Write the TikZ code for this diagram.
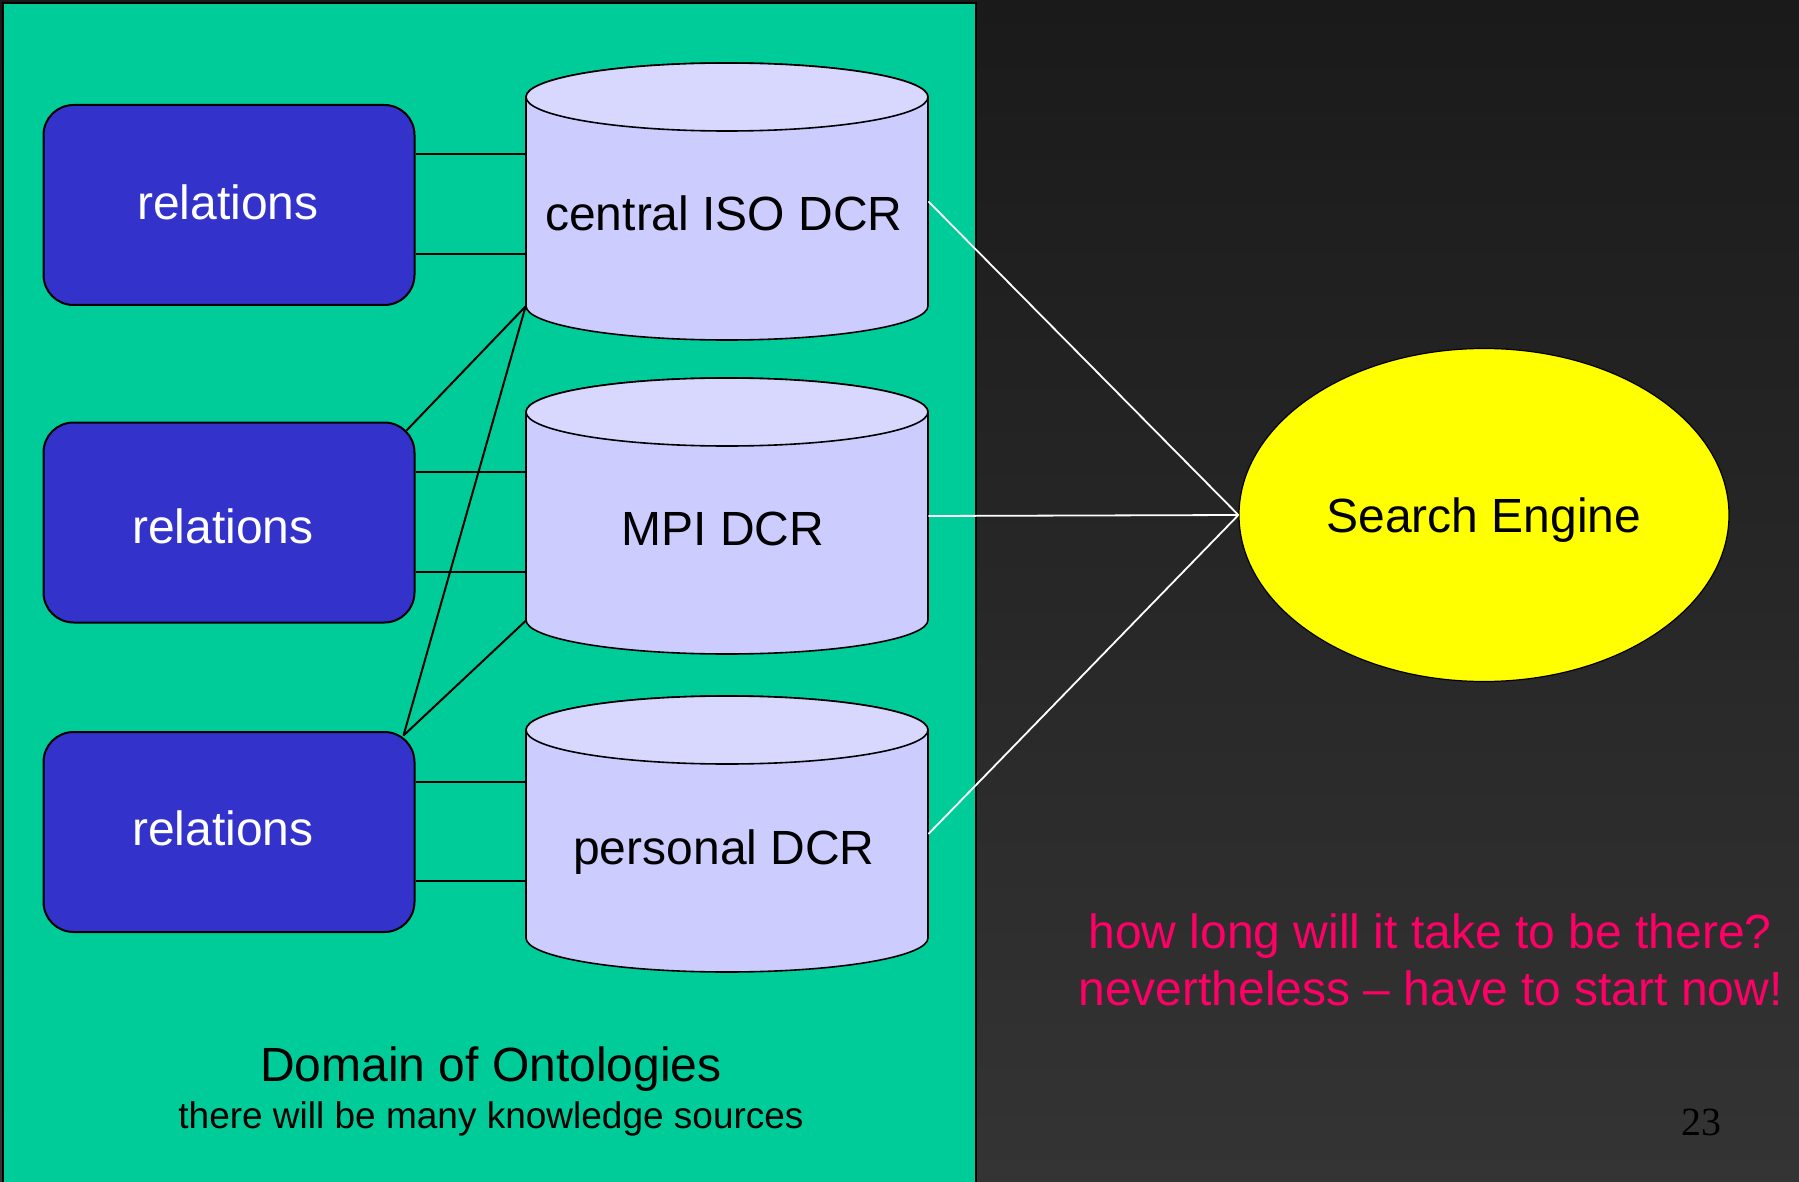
\documentclass[tikz,border=0pt]{standalone}
\usepackage{fontspec}
\setmainfont{Liberation Sans}
\newfontfamily\serifnum{Liberation Serif}
\usetikzlibrary{calc,shapes.geometric}
\definecolor{panelgreen}{RGB}{0,204,153}
\definecolor{boxblue}{RGB}{51,51,204}
\definecolor{cylbody}{RGB}{204,204,255}
\definecolor{cyltop}{RGB}{216,216,255}
\definecolor{pinktext}{RGB}{255,0,102}
\definecolor{engineyellow}{RGB}{255,255,0}
\definecolor{bgtop}{RGB}{26,26,26}
\definecolor{bgbot}{RGB}{52,52,52}
\newcommand\dbcyl[3]{%
  \filldraw[fill=cylbody,draw=black,line width=0.8pt]
    (#1-201,#2) -- (#1-201,#3)
    arc[start angle=180,end angle=360,x radius=100.5pt,y radius=17pt]
    -- (#1+201,#2)
    arc[start angle=0,end angle=180,x radius=100.5pt,y radius=17pt] -- cycle;
  \filldraw[fill=cyltop,draw=black,line width=0.8pt] (#1,#2) ellipse[x radius=100.5pt,y radius=17pt];}
\begin{document}
\begin{tikzpicture}[x=0.5pt,y=-0.5pt,
  bigfont/.style={font=\fontsize{24}{28}\selectfont},
  relbox/.style={rounded corners=15pt, fill=boxblue, draw=black, line width=1pt,
    minimum width=185.5pt, minimum height=100pt, inner sep=0pt},
  reltext/.style={anchor=base, inner sep=0pt, text=white, bigfont},
  cylbox/.style={minimum width=201pt, minimum height=104.5pt, inner sep=0pt},
  cyltext/.style={anchor=base, inner sep=0pt, text=black, bigfont},
  link/.style={draw=black, line width=1pt},
  wlink/.style={draw=white, line width=0.9pt},
  enginestyle/.style={ellipse, fill=engineyellow, draw=black, line width=0.6pt,
    minimum width=245pt, minimum height=166.5pt, inner sep=0pt,
    text height=17pt, text depth=0pt, bigfont},
  pinkline/.style={anchor=base, inner sep=0pt, text=pinktext, bigfont}]
\useasboundingbox (0,0) rectangle (1799,1182);
\shade[top color=bgtop, bottom color=bgbot] (0,0) rectangle (1799,1182);
% panel
\filldraw[fill=panelgreen, draw=black, line width=1pt] (3,3) rectangle (976,1190);
% cylinders
\dbcyl{727}{97}{306}
\dbcyl{727}{412}{620}
\dbcyl{727}{730}{938}
\node[cylbox] (c1) at (727,201.5) {};
\node[cylbox] (c2) at (727,516) {};
\node[cylbox] (c3) at (727,834) {};
\node[cyltext] (c1t) at (724,231) {central ISO DCR};
\node[cyltext] (c2t) at (723,545.5) {MPI DCR};
\node[cyltext] (c3t) at (724,864) {personal DCR};
% relation boxes
\node[relbox] (b1) at (229,205) {};
\node[relbox] (b2) at (229,522.5) {};
\node[relbox] (b3) at (229,832) {};
\node[reltext] (r1) at (228,220) {relations};
\node[reltext] (r2) at (223,543) {relations};
\node[reltext] (r3) at (223,845) {relations};
% horizontal connectors
\foreach \b/\c in {b1/c1,b2/c2,b3/c3}{
  \coordinate (\b u) at ($(\b.north east)!0.25!(\b.south east)$);
  \coordinate (\b l) at ($(\b.north east)!0.745!(\b.south east)$);
  \draw[link] (\b u) -- (\b u -| \c.west);
  \draw[link] (\b l) -- (\b l -| \c.west);
}
% diagonal connectors
\coordinate (b2c) at ([xshift=-4.5pt,yshift=-4.5pt]b2.north east);
\coordinate (b3c) at ([xshift=-6pt,yshift=-2.25pt]b3.north east);
\draw[link] (b2c) -- (c1.south west);
\draw[link] (b3c) -- (c1.south west);
\draw[link] (b3c) -- (c2.south west);
% search engine
\node[enginestyle] (se) at (1484,515) {Search Engine};
\draw[wlink] (c1.east) -- (se.west);
\draw[wlink] (c2.east) -- (se.west);
\draw[wlink] (c3.east) -- (se.west);
% captions
\node[anchor=base, inner sep=0pt, bigfont] (dom) at (491,1081.5) {Domain of Ontologies};
\node[anchor=base, inner sep=0pt, font=\fontsize{18.5}{22}\selectfont] (sub) at (491,1128) {there will be many knowledge sources};
\node[pinkline] (q1) at (1430,948) {how long will it take to be there?};
\node[pinkline] (q2) at (1430.5,1005) {nevertheless – have to start now!};
\node[anchor=base, inner sep=0pt, text=black, font=\serifnum\fontsize{20}{24}\selectfont] (pg) at (1701,1135) {23};
\end{tikzpicture}
\end{document}
